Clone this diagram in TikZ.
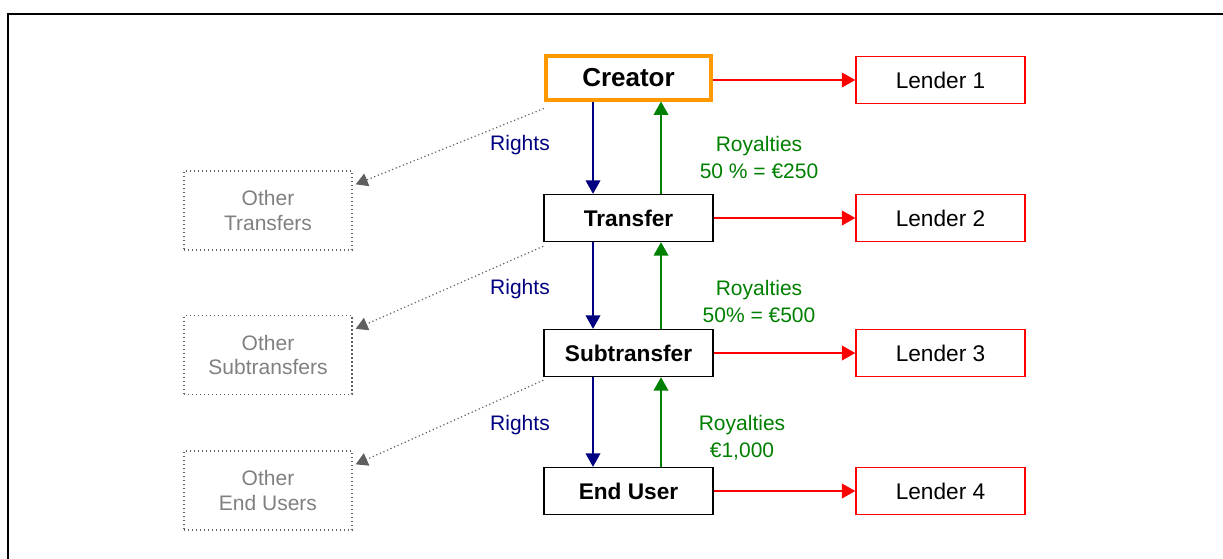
\documentclass[tikz,border=0pt]{standalone}
\usepackage{fontspec}
\setmainfont{Liberation Sans}
\usetikzlibrary{arrows.meta}
\definecolor{navyc}{HTML}{000080}
\definecolor{greenc}{HTML}{008000}
\definecolor{orangec}{HTML}{FF9900}
\definecolor{grayt}{HTML}{808080}
\definecolor{grayl}{HTML}{606060}
\begin{document}
\begin{tikzpicture}[x=0.75pt,y=-0.75pt,
  mainbox/.style={draw=black,line width=1.1pt,fill=white,minimum width=126.75pt,minimum height=35.25pt,inner sep=0pt,font=\fontsize{17}{20}\selectfont\bfseries},
  creatorbox/.style={mainbox,draw=orangec,line width=3pt,minimum width=124pt,minimum height=33pt,font=\fontsize{19.5}{22}\selectfont\bfseries},
  lenderbox/.style={draw=red,line width=1.1pt,fill=white,minimum width=126.75pt,minimum height=35.25pt,inner sep=0pt,font=\fontsize{17}{20}\selectfont},
  otherbox/.style={draw=grayl,dotted,line width=1pt,minimum width=126pt,minimum height=59.25pt,inner sep=0pt,align=center,text=grayt,font=\fontsize{15.75}{18.5}\selectfont},
  rightsl/.style={text=navyc,font=\fontsize{15.75}{20.25}\selectfont},
  royl/.style={text=greenc,align=center,fill=white,minimum width=106pt,inner sep=1.5pt,font=\fontsize{15.75}{20.25}\selectfont},
  rightsarr/.style={draw=navyc,line width=1pt,-{Triangle[length=10pt,width=11pt]}},
  royarr/.style={draw=greenc,line width=1pt,-{Triangle[length=10pt,width=11pt]}},
  lendarr/.style={draw=red,line width=1.1pt,-{Triangle[length=10pt,width=11pt]}},
  otherarr/.style={draw=grayl,dotted,line width=0.9pt,-{Triangle[length=9pt,width=10pt]}}
]
\useasboundingbox (0,0) rectangle (1223,558);
\draw[line width=1.5pt,line join=miter] (8,560) -- (8,14) -- (1225,14);

% main chain
\node[creatorbox] (creator) at (628.5,77.5) {\raisebox{-2.5pt}{Creator}};
\node[mainbox] (transfer) at (628.5,218) {\raisebox{-1.5pt}{Transfer}};
\node[mainbox] (subtransfer) at (628.5,353) {Subtransfer};
\node[mainbox] (enduser) at (628.5,491) {End User};

% lenders
\node[lenderbox] (l1) at (940.5,80) {Lender 1};
\node[lenderbox] (l2) at (940.5,218) {Lender 2};
\node[lenderbox] (l3) at (940.5,353) {Lender 3};
\node[lenderbox] (l4) at (940.5,491) {Lender 4};

% other boxes
\node[otherbox] (o1) at (268,210.5) {Other\\Transfers};
\node[otherbox] (o2) at (268,355) {Other\\Subtransfers};
\node[otherbox] (o3) at (268,490.5) {Other\\End Users};

% rights arrows
\draw[rightsarr] ([xshift=-35.5*0.75pt]creator.south) -- ([xshift=-35.5*0.75pt]transfer.north);
\draw[rightsarr] ([xshift=-35.5*0.75pt]transfer.south) -- ([xshift=-35.5*0.75pt]subtransfer.north);
\draw[rightsarr] ([xshift=-35.5*0.75pt]subtransfer.south) -- ([xshift=-35.5*0.75pt]enduser.north);

% royalties arrows
\draw[royarr] ([xshift=32.5*0.75pt]transfer.north) -- ([xshift=32.5*0.75pt]creator.south);
\draw[royarr] ([xshift=32.5*0.75pt]subtransfer.north) -- ([xshift=32.5*0.75pt]transfer.south);
\draw[royarr] ([xshift=32.5*0.75pt]enduser.north) -- ([xshift=32.5*0.75pt]subtransfer.south);

% lender arrows
\draw[lendarr] (creator.east |- l1.west) -- (l1.west);
\draw[lendarr] (transfer.east) -- (l2.west);
\draw[lendarr] (subtransfer.east) -- (l3.west);
\draw[lendarr] (enduser.east) -- (l4.west);

% dotted arrows to other boxes
\draw[otherarr] ([yshift=-7*0.75pt]creator.south west) -- ([shift={(3,14)}]o1.north east);
\draw[otherarr] ([yshift=-4*0.75pt]transfer.south west) -- ([shift={(3,14)}]o2.north east);
\draw[otherarr] ([yshift=-3*0.75pt]subtransfer.south west) -- ([shift={(3,14)}]o3.north east);

% labels
\node[rightsl] (r1) at (520,145) {Rights};
\node[rightsl] (r2) at (520,289) {Rights};
\node[rightsl] (r3) at (520,425) {Rights};
\node[royl] (y1) at (759,157.5) {Royalties\\50 \% = €250};
\node[royl] (y2) at (759,301.5) {Royalties\\50\% = €500};
\node[royl] (y3) at (742,437.5) {Royalties\\€1,000};
\end{tikzpicture}
\end{document}
